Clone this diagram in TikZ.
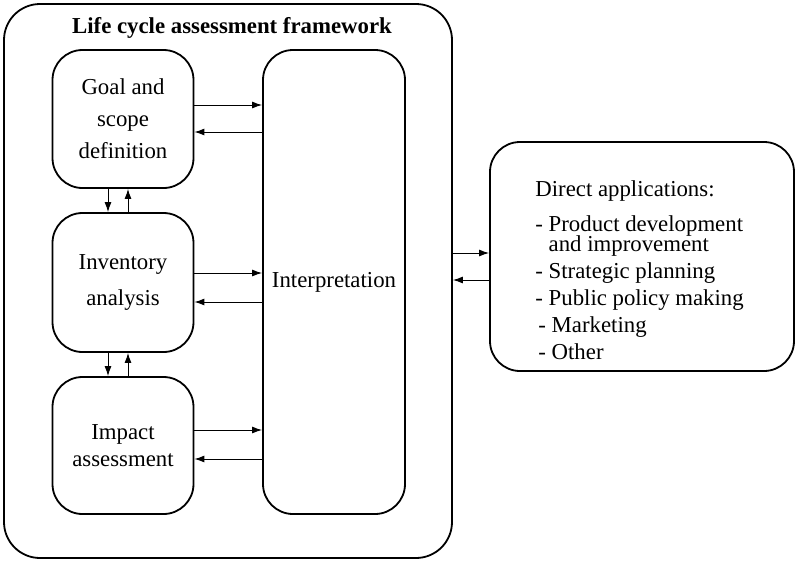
\documentclass[tikz,border=0pt]{standalone}
\usepackage{fontspec}
\setmainfont{Liberation Serif}
\usetikzlibrary{arrows.meta}
\usetikzlibrary{positioning}
\tikzset{
  stagebox/.style={draw, line width=0.9pt, rounded corners=15pt, minimum width=70.5pt, align=center, inner sep=0pt},
  link/.style={line width=0.5pt, -{Latex[length=5pt,width=3.5pt]}},
}

\begin{document}
\begin{tikzpicture}[x=0.5pt,y=-0.5pt,font=\fontsize{11.4}{13.5}\selectfont]
		\useasboundingbox (0,0) rectangle (800,563);
		
		% outer framework with its title
		\node[draw, line width=0.9pt, rounded corners=18pt, minimum width=224pt, minimum height=277pt] (frame) at (228,281) {};
		\node[anchor=base, font=\fontsize{11.4}{13.5}\selectfont\bfseries] (title) at (232,33) {Life cycle assessment framework};
		
		% the three stages on the left
		\node[stagebox, minimum height=69pt] (goal) at (123,119) {Goal and\\[2.5pt] scope\\[2.5pt] definition};
		\node[stagebox, minimum height=69.5pt] (inv) at (123,282.5) {Inventory\\[4.5pt] analysis};
		\node[stagebox, minimum height=68.5pt] (imp) at (123,445.5) {Impact\\ assessment};
		
		% interpretation runs along all stages
		\node[stagebox, minimum width=71pt, minimum height=232pt] (interp) at (334,282) {Interpretation};
		
		% stages <-> interpretation
		\draw[link] ([yshift=7pt]goal.east) -- ([yshift=7pt]goal.east -| interp.west);
		\draw[link] ([yshift=-6.5pt]goal.east -| interp.west) -- ([yshift=-6.5pt]goal.east);
		\draw[link] ([yshift=4.75pt]inv.east) -- ([yshift=4.75pt]inv.east -| interp.west);
		\draw[link] ([yshift=-9.75pt]inv.east -| interp.west) -- ([yshift=-9.75pt]inv.east);
		\draw[link] ([yshift=7.75pt]imp.east) -- ([yshift=7.75pt]imp.east -| interp.west);
		\draw[link] ([yshift=-6.75pt]imp.east -| interp.west) -- ([yshift=-6.75pt]imp.east);
		
		% stage <-> stage
		\draw[link] ([xshift=-7.5pt]goal.south) -- ([xshift=-7.5pt]goal.south |- inv.north);
		\draw[link] ([xshift=2.5pt]goal.south |- inv.north) -- ([xshift=2.5pt]goal.south);
		\draw[link] ([xshift=-7.5pt]inv.south) -- ([xshift=-7.5pt]inv.south |- imp.north);
		\draw[link] ([xshift=2.5pt]inv.south |- imp.north) -- ([xshift=2.5pt]inv.south);
		
		% direct applications on the right
		\node[draw, line width=0.9pt, rounded corners=15pt, minimum width=152pt, minimum height=114.5pt] (direct) at (642,256.5) {};
		\node[anchor=north west, align=left, inner sep=0pt] (apps) at (535,180) {Direct applications:\\[4pt]
			- Product development\\[-3.5pt]
			\hphantom{- }and improvement\\
			- Strategic planning\\
			- Public policy making\\
			\hspace{1.5pt}- Marketing\\
			\hspace{1.5pt}- Other};
		
		% framework <-> applications
		\draw[link] ([yshift=1.75pt]direct.west -| frame.east) -- ([yshift=1.75pt]direct.west);
		\draw[link] ([yshift=-11.75pt]direct.west) -- ([yshift=-11.75pt]direct.west -| frame.east);
	\end{tikzpicture}
\end{document}
